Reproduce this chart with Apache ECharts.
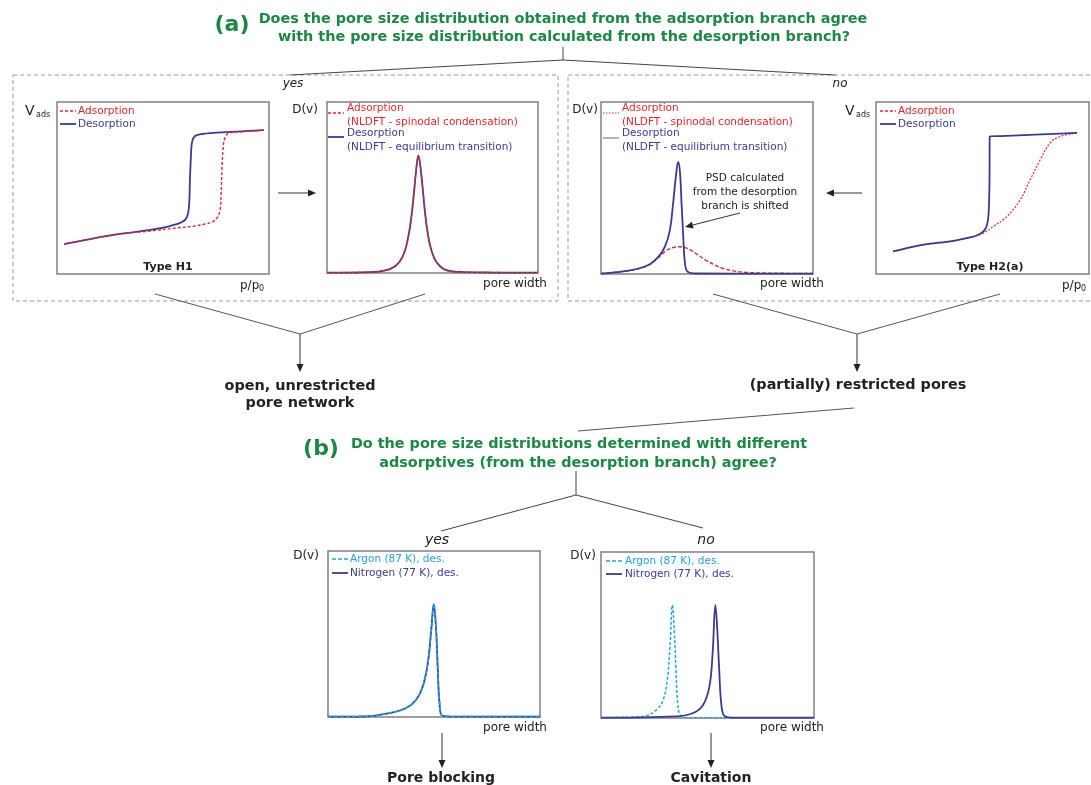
<!DOCTYPE html>
<html>
<head>
<meta charset="utf-8">
<script src="https://cdn.jsdelivr.net/npm/echarts@6/dist/echarts.min.js"></script>
<style>
html, body { margin: 0; padding: 0; background: #fff; }
#chart { width: 1091px; height: 785px; }
</style>
</head>
<body>
<div id="chart"></div>
<script>
// values: [relative x, relative y] inside each small plot
var h1Ads = [[0.033,0.174],[0.156,0.203],[0.297,0.233],[0.439,0.25],[0.557,0.267],[0.651,0.279],[0.698,0.291],[0.731,0.302],[0.755,0.326],[0.769,0.372],[0.774,0.459],[0.778,0.605],[0.783,0.721],[0.792,0.791],[0.811,0.82],[0.863,0.826],[0.976,0.837]];
var h1Des = [[0.033,0.174],[0.156,0.203],[0.297,0.233],[0.439,0.256],[0.533,0.279],[0.59,0.302],[0.613,0.331],[0.623,0.401],[0.627,0.547],[0.632,0.692],[0.637,0.767],[0.651,0.802],[0.684,0.814],[0.816,0.826],[0.976,0.837]];

var psdH1Ads = [[0,0.002],[0.205,0.005],[0.276,0.015],[0.323,0.04],[0.356,0.09],[0.38,0.18],[0.399,0.32],[0.413,0.48],[0.425,0.63],[0.433,0.686],[0.441,0.64],[0.453,0.5],[0.465,0.35],[0.479,0.22],[0.498,0.12],[0.521,0.06],[0.559,0.02],[0.63,0.006],[0.771,0.003],[1,0.002]];
var psdH1Des = [[0,0.002],[0.205,0.005],[0.276,0.015],[0.323,0.04],[0.356,0.09],[0.38,0.18],[0.399,0.32],[0.413,0.48],[0.425,0.63],[0.433,0.686],[0.441,0.64],[0.453,0.5],[0.465,0.35],[0.479,0.22],[0.498,0.12],[0.521,0.06],[0.559,0.02],[0.63,0.006],[0.771,0.003],[1,0.002]];

var psdH2Ads = [[0,0.002],[0.145,0.023],[0.223,0.05],[0.27,0.095],[0.301,0.13],[0.325,0.148],[0.349,0.156],[0.372,0.158],[0.4,0.152],[0.429,0.135],[0.458,0.11],[0.495,0.08],[0.537,0.052],[0.575,0.033],[0.616,0.02],[0.678,0.01],[0.796,0.005],[1,0.003]];
var psdH2Des = [[0,0.002],[0.145,0.023],[0.223,0.052],[0.27,0.1],[0.301,0.158],[0.325,0.255],[0.34,0.41],[0.353,0.565],[0.364,0.652],[0.372,0.6],[0.38,0.41],[0.388,0.217],[0.396,0.062],[0.409,0.013],[0.45,0.003],[1,0.002]];

var h2Ads = [[0.08,0.131],[0.161,0.155],[0.255,0.176],[0.349,0.19],[0.458,0.218],[0.5,0.235],[0.552,0.277],[0.615,0.335],[0.677,0.432],[0.724,0.548],[0.771,0.664],[0.818,0.762],[0.865,0.8],[0.944,0.82]];
var h2Des = [[0.08,0.131],[0.161,0.155],[0.255,0.176],[0.349,0.19],[0.458,0.218],[0.48,0.228],[0.5,0.243],[0.513,0.262],[0.522,0.29],[0.528,0.34],[0.531,0.42],[0.533,0.55],[0.534,0.8],[0.584,0.802],[0.944,0.82]];

var yesArgon = [[0,0.002],[0.181,0.004],[0.29,0.024],[0.369,0.054],[0.416,0.104],[0.447,0.184],[0.471,0.324],[0.487,0.524],[0.499,0.68],[0.51,0.524],[0.518,0.284],[0.526,0.084],[0.539,0.008],[0.6,0.002],[1,0.002]];
var yesNitrogen = [[0,0.002],[0.181,0.004],[0.29,0.024],[0.369,0.054],[0.416,0.104],[0.447,0.184],[0.471,0.324],[0.487,0.524],[0.499,0.68],[0.51,0.524],[0.518,0.284],[0.526,0.084],[0.539,0.008],[0.6,0.002],[1,0.002]];
var noArgon = [[0,0.002],[0.199,0.01],[0.261,0.05],[0.292,0.11],[0.311,0.23],[0.324,0.43],[0.335,0.68],[0.344,0.53],[0.352,0.29],[0.36,0.09],[0.371,0.02],[0.4,0.002],[1,0.002]];
var noNitrogen = [[0,0.002],[0.355,0.01],[0.433,0.03],[0.48,0.08],[0.509,0.19],[0.524,0.39],[0.537,0.68],[0.546,0.53],[0.555,0.29],[0.566,0.07],[0.582,0.01],[0.62,0.002],[1,0.002]];

var RED = '#e8262d', NAVY = '#3a3a96', SKY = '#1ea5e0', GREEN = '#1a8a43', INK = '#222';
var FONT = '"DejaVu Sans", Verdana, sans-serif';

// plot boxes in pixels: left, top, width, height
var boxes = [
	[57, 102, 212, 172],
	[327, 102, 211, 171],
	[601, 102, 212, 172],
	[876, 102, 213, 172],
	[328, 551, 212, 166],
	[601, 552, 213, 166]
];
var grid = [], xAxis = [], yAxis = [];
boxes.forEach(function(b, i) {
	grid.push({left: b[0], top: b[1], width: b[2], height: b[3], show: true,
		borderColor: '#808080', borderWidth: 1.5, backgroundColor: '#fff'});
	xAxis.push({type: 'value', gridIndex: i, min: 0, max: 1, show: false});
	yAxis.push({type: 'value', gridIndex: i, min: 0, max: 1, show: false});
});

function curve(name, idx, data, color, width, dash, smooth, z) {
	return {
		name: name, type: 'line', xAxisIndex: idx, yAxisIndex: idx, data: data,
		showSymbol: false, symbol: 'none', smooth: smooth,
		lineStyle: {color: color, width: width, type: dash || 'solid'},
		z: z || 2, silent: true, animation: false
	};
}

var series = [
	curve('Desorption', 0, h1Des, NAVY, 1.8, null, 0.4, 2),
	curve('Adsorption', 0, h1Ads, RED, 1.4, [3, 2], 0.4, 3),
	curve('Desorption', 1, psdH1Des, NAVY, 1.8, null, 0.4, 2),
	curve('Adsorption', 1, psdH1Ads, RED, 1.4, [3, 2], 0.4, 3),
	curve('Adsorption', 2, psdH2Ads, RED, 1.4, [4, 2], 0.4, 2),
	curve('Desorption', 2, psdH2Des, NAVY, 1.8, null, 0.4, 3),
	curve('Adsorption', 3, h2Ads, RED, 1.2, [2, 1.5], 0.4, 2),
	curve('Desorption', 3, h2Des, NAVY, 1.8, null, 0.25, 3),
	curve('Nitrogen (77 K), des.', 4, yesNitrogen, NAVY, 1.8, null, 0.4, 2),
	curve('Argon (87 K), des.', 4, yesArgon, SKY, 1.6, [4, 2], 0.4, 3),
	curve('Argon (87 K), des.', 5, noArgon, SKY, 1.5, [3, 2], 0.4, 2),
	curve('Nitrogen (77 K), des.', 5, noNitrogen, NAVY, 1.8, null, 0.4, 3)
];

// drawing helpers for the flow-chart parts
function T(x, y, text, font, color, align) {
	return {type: 'text', x: x, y: y, z: 20, silent: true,
		style: {text: text, font: font, fill: color || INK, align: align || 'center', verticalAlign: 'middle'}};
}
function L(x1, y1, x2, y2, color, width, dash) {
	return {type: 'line', z: 15, silent: true, shape: {x1: x1, y1: y1, x2: x2, y2: y2},
		style: {stroke: color || '#444', lineWidth: width || 1, lineDash: dash || null}};
}
function A(x1, y1, x2, y2) {
	var ang = Math.atan2(y2 - y1, x2 - x1), len = 8, hw = 3.5;
	var bx = x2 - len * Math.cos(ang), by = y2 - len * Math.sin(ang);
	var px = -Math.sin(ang) * hw, py = Math.cos(ang) * hw;
	return [L(x1, y1, bx, by, '#333', 1),
		{type: 'polygon', z: 15, silent: true,
		 shape: {points: [[x2, y2], [bx + px, by + py], [bx - px, by - py]]},
		 style: {fill: '#222'}}];
}
function R(x, y, w, h) {
	return {type: 'rect', z: 1, silent: true, shape: {x: x, y: y, width: w, height: h},
		style: {fill: 'none', stroke: '#9a9a9a', lineWidth: 1, lineDash: [4, 3]}};
}
function key(x, y, color, dash, width) {
	return L(x, y, x + 16, y, color, width || 1.6, dash);
}

var f12 = '12px ' + FONT, f10 = '10.5px ' + FONT, fbT = 'bold 14.4px ' + FONT;
var g = [];
// part (a)
g.push(T(232, 25, '(a)', 'bold 22px ' + FONT, GREEN));
g.push(T(563, 19, 'Does the pore size distribution obtained from the adsorption branch agree', fbT, GREEN));
g.push(T(564, 37, 'with the pore size distribution calculated from the desorption branch?', fbT, GREEN));
g.push(L(563, 47, 563, 60), L(563, 60, 290, 75), L(563, 60, 835, 75));
g.push(R(13, 75, 545, 226), R(568, 75, 526, 226));
g.push(T(293, 84, 'yes', 'italic ' + f12), T(840, 84, 'no', 'italic ' + f12));

// plot 1 labels
g.push(T(25, 111, 'V', '14px ' + FONT, INK, 'left'), T(36, 115, 'ads', '8px ' + FONT, INK, 'left'));
g.push(key(60, 111, RED, [3, 2], 1.4), T(78, 111, 'Adsorption', f10, RED, 'left'));
g.push(key(60, 124, NAVY, null, 1.8), T(78, 124, 'Desorption', f10, NAVY, 'left'));
g.push(T(168, 267, 'Type H1', 'bold 11px ' + FONT));
g.push(T(240, 286, 'p/p', f12, INK, 'left'), T(259, 289, '0', '8px ' + FONT, INK, 'left'));
g = g.concat(A(278, 193, 316, 193));

// plot 2 labels
g.push(T(305, 110, 'D(v)', f12));
g.push(key(328, 113, RED, [3, 2], 1.4), T(347, 108, 'Adsorption', f10, RED, 'left'));
g.push(T(347, 122, '(NLDFT - spinodal condensation)', f10, RED, 'left'));
g.push(key(328, 137, NAVY, null, 1.8), T(347, 133.5, 'Desorption', f10, NAVY, 'left'));
g.push(T(347, 147, '(NLDFT - equilibrium transition)', f10, NAVY, 'left'));
g.push(T(515, 284, 'pore width', f12));

// plot 3 labels
g.push(T(585, 110, 'D(v)', f12));
g.push(key(603, 113, RED, [1.5, 1.5], 1), T(622, 108, 'Adsorption', f10, RED, 'left'));
g.push(T(622, 122, '(NLDFT - spinodal condensation)', f10, RED, 'left'));
g.push(key(603, 138, NAVY, null, 0.8), T(622, 133.5, 'Desorption', f10, NAVY, 'left'));
g.push(T(622, 147, '(NLDFT - equilibrium transition)', f10, NAVY, 'left'));
g.push(T(745, 178, 'PSD calculated', f10), T(745, 192, 'from the desorption', f10), T(745, 206, 'branch is shifted', f10));
g = g.concat(A(740, 213, 685, 227));
g.push(T(792, 284, 'pore width', f12));

// plot 4 labels
g.push(T(845, 111, 'V', '14px ' + FONT, INK, 'left'), T(856, 115, 'ads', '8px ' + FONT, INK, 'left'));
g.push(key(880, 111, RED, [3, 2], 1.4), T(898, 111, 'Adsorption', f10, RED, 'left'));
g.push(key(880, 124, NAVY, null, 1.8), T(898, 124, 'Desorption', f10, NAVY, 'left'));
g.push(T(990, 267, 'Type H2(a)', 'bold 11px ' + FONT));
g.push(T(1062, 286, 'p/p', f12, INK, 'left'), T(1081, 289, '0', '8px ' + FONT, INK, 'left'));
g = g.concat(A(862, 193, 826, 193));

// outcomes of (a)
g.push(L(155, 294, 300, 334, '#555'), L(300, 334, 425, 294, '#555'));
g = g.concat(A(300, 334, 300, 372));
g.push(T(300, 386, 'open, unrestricted', fbT), T(300, 403, 'pore network', fbT));
g.push(L(713, 294, 857, 334, '#555'), L(857, 334, 1000, 294, '#555'));
g = g.concat(A(857, 334, 857, 372));
g.push(T(858, 385, '(partially) restricted pores', fbT));
g.push(L(854, 408, 578, 431, '#555'));

// part (b)
g.push(T(321, 449, '(b)', 'bold 22px ' + FONT, GREEN));
g.push(T(579, 444, 'Do the pore size distributions determined with different', fbT, GREEN));
g.push(T(578, 463, 'adsorptives (from the desorption branch) agree?', fbT, GREEN));
g.push(L(576, 471, 576, 495), L(576, 495, 441, 531), L(576, 495, 703, 528));
g.push(T(437, 540, 'yes', 'italic 14px ' + FONT), T(706, 540, 'no', 'italic 14px ' + FONT));

// plot 5 labels
g.push(T(306, 556, 'D(v)', f12));
g.push(key(332, 559, SKY, [4, 2], 1.6), T(350, 559, 'Argon (87 K), des.', f10, SKY, 'left'));
g.push(key(332, 573, NAVY, null, 1.8), T(350, 573, 'Nitrogen (77 K), des.', f10, NAVY, 'left'));
g.push(T(515, 728, 'pore width', f12));
g = g.concat(A(442, 733, 442, 768));
g.push(T(441, 778, 'Pore blocking', 'bold 14px ' + FONT));

// plot 6 labels
g.push(T(583, 556, 'D(v)', f12));
g.push(key(606, 561, SKY, [4, 2], 1.6), T(625, 561, 'Argon (87 K), des.', f10, SKY, 'left'));
g.push(key(606, 574, NAVY, null, 1.8), T(625, 574, 'Nitrogen (77 K), des.', f10, NAVY, 'left'));
g.push(T(792, 728, 'pore width', f12));
g = g.concat(A(711, 733, 711, 768));
g.push(T(711, 778, 'Cavitation', 'bold 14px ' + FONT));

var myChart = echarts.init(document.getElementById('chart'), null, {renderer: 'canvas'});
myChart.setOption({
	backgroundColor: '#fff',
	animation: false,
	grid: grid,
	xAxis: xAxis,
	yAxis: yAxis,
	series: series,
	graphic: g
});
</script>
</body>
</html>
